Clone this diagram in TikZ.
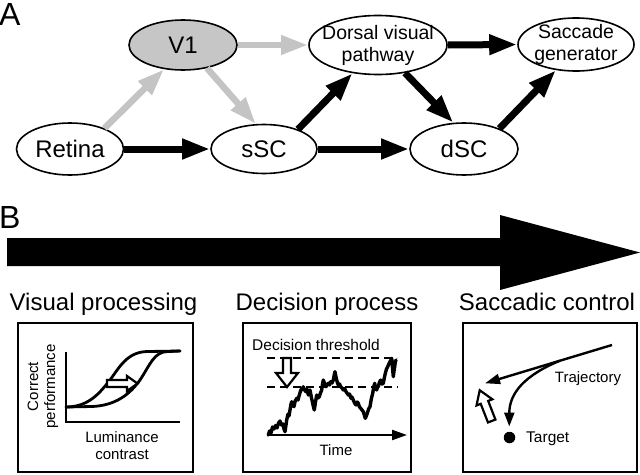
\documentclass[tikz,border=0pt]{standalone}
\usepackage{fontspec}
\setmainfont{Liberation Sans}
\usetikzlibrary{arrows.meta,shapes.geometric}
\definecolor{vonegray}{HTML}{C6C6C6}
\definecolor{arrgray}{HTML}{C4C4C4}
\begin{document}
\begin{tikzpicture}[x=1pt,y=-1pt,
  region/.style={ellipse,draw=black,line width=1.6pt,fill=white,inner xsep=-12pt,inner ysep=-3pt,align=center},
  bigfont/.style={font=\fontsize{24}{28}\selectfont},
  twofont/.style={font=\fontsize{19.5}{22}\selectfont},
  smallfont/.style={font=\fontsize{15}{17}\selectfont},
  titlefont/.style={font=\fontsize{24}{28}\selectfont},
  letterfont/.style={font=\fontsize{32}{36}\selectfont},
  blackarrow/.style={line width=7pt,-{Triangle[length=28pt,width=19pt]}},
  grayarrow/.style={line width=6.5pt,draw=arrgray,-{Triangle[length=27pt,width=18pt]}},
  panel/.style={draw,line width=2pt,inner sep=0pt,minimum height=149pt},
  thinarrow/.style={line width=2.2pt,-{Triangle[length=15pt,width=10pt]}},
  hollow/.style={draw=black,fill=white,line width=2.2pt,line join=miter},
  curve/.style={line width=2.8pt,line cap=round,line join=round},
  thr/.style={line width=1.5pt,dash pattern=on 8pt off 5pt}
]
\useasboundingbox (0,0) rectangle (640,474);

% ---------- Panel A ----------
\node[letterfont,anchor=base west,inner sep=0pt] (labA) at (-1,25) {A};

\node[region,bigfont,minimum width=107pt,minimum height=52pt] (retina) at (70,149) {Retina};
\node[region,bigfont,fill=vonegray,minimum width=108pt,minimum height=50pt] (v1) at (183,45) {V1};
\node[region,bigfont,minimum width=106pt,minimum height=49pt] (ssc) at (264,149) {sSC};
\node[region,bigfont,minimum width=108pt,minimum height=52pt] (dsc) at (464,149) {dSC};
\node[region,twofont,minimum width=138pt,minimum height=59pt] (dorsal) at (378,45) {Dorsal visual\\pathway};
\node[region,twofont,minimum width=116pt,minimum height=53pt] (sacc) at (576,44.5) {Saccade\\generator};

\draw[grayarrow] (retina.31) -- (v1.232);
\draw[grayarrow] (v1.-44) -- (ssc.108);
\draw[grayarrow] (v1.east) -- (dorsal.west);
\draw[blackarrow] (retina.east) -- (ssc.west);
\draw[blackarrow] (ssc.east) -- (dsc.west);
\draw[blackarrow] (ssc.30) -- (dorsal.228);
\draw[blackarrow] (dorsal.-46) -- (dsc.112);
\draw[blackarrow] (dsc.30) -- (sacc.232);
\draw[blackarrow] (dorsal.east) -- (sacc.west);

% ---------- Panel B ----------
\node[letterfont,anchor=base west,inner sep=0pt] (labB) at (-1,228) {B};
\fill[black] (7,238) -- (500,238) -- (500,215) -- (640,252.5) -- (500,290) -- (500,266) -- (7,266) -- cycle;

\node[titlefont,anchor=base,inner sep=0pt] (t1) at (103.5,310) {Visual processing};
\node[titlefont,anchor=base,inner sep=0pt] (t2) at (327,310) {Decision process};
\node[titlefont,anchor=base,inner sep=0pt] (t3) at (547,310) {Saccadic control};

\node[panel,minimum width=175pt] (box1) at (105.5,397.5) {};
\node[panel,minimum width=168pt] (box2) at (327,397.5) {};
\node[panel,minimum width=174pt] (box3) at (550,397.5) {};

% box 1: psychometric curves
\coordinate (orig1) at (66,422);
\coordinate (yend1) at (66,352);
\coordinate (xend1) at (180,422);
\draw[line width=2pt] (yend1) -- (orig1) -- (xend1);
\draw[curve] (66,407) .. controls (90,407) and (101,391) .. (110,380)
  .. controls (119,368) and (127,351.5) .. (148,351.5) -- (180,351);
\draw[curve] (66,407) -- (92,406.5) .. controls (116,405.5) and (130,394) .. (140,380)
  .. controls (150,365) and (154,351.5) .. (168,351.5) -- (180,351);
\draw[hollow] (107,380) -- (127,380) -- (127,376) -- (137.5,383.5) -- (127,391) -- (127,387) -- (107,387) -- cycle;
\node[smallfont,rotate=90,align=center,inner sep=0pt] (perf) at (43,386.5) {Correct\\performance};
\node[smallfont,align=center,inner sep=0pt] (lum) at (122,446) {Luminance\\contrast};

% box 2: decision process
\node[font=\fontsize{15.5}{17}\selectfont,inner sep=0pt] (dthr) at (316,345) {Decision threshold};
\coordinate (up1) at (267,358); \coordinate (up2) at (397,358);
\coordinate (lo1) at (267,387); \coordinate (lo2) at (398,387);
\draw[thr] (up1) -- (up2);
\draw[thr] (lo1) -- (lo2);
\coordinate (tax0) at (267,435); \coordinate (tax1) at (407,435);
\draw[thinarrow] (tax0) -- (tax1);
\node[smallfont,inner sep=0pt] (time) at (336,450) {Time};
\draw[line width=3.4pt,line join=round,line cap=round]
 (268.3,435) -- (269.5,431) -- (271,433) -- (272.5,427) -- (274,429) -- (275.5,425.5) -- (277,428) -- (278.5,423) -- (280,421) -- (281.5,425) -- (283,424) -- (284,429) -- (285,431.7) -- (286,425) -- (286.7,420) -- (288,414) -- (289,416) -- (290,410) -- (291,404) -- (291.7,401.7) -- (292.8,405) -- (294,406.7) -- (295.2,401) -- (296.7,398.3) -- (298,400) -- (299.3,395) -- (300.5,391) -- (301.7,388.3) -- (302.5,389.5) -- (303.3,386.7) -- (304.5,390) -- (306,391.7) -- (307,389) -- (308.3,395) -- (309.2,392) -- (310,390) -- (311.3,397) -- (312.7,403.3) -- (313.5,407) -- (314.3,410) -- (315.5,402) -- (316.7,395) -- (318,398) -- (319.3,396.7) -- (320.5,393) -- (321.7,390) -- (322.5,384) -- (323.3,380) -- (324.7,384) -- (326,386.7) -- (327.2,384.5) -- (328.3,383.3) -- (329.5,385) -- (330.7,381.7) -- (332,383) -- (333.3,380) -- (334.2,375) -- (335,371.7) -- (335.8,376) -- (336.7,380) -- (337.5,383) -- (338.3,385) -- (339.5,384) -- (340.7,386.7) -- (342,388) -- (343.3,390) -- (344.7,388.5) -- (346,391.7) -- (347,393) -- (348.3,395) -- (349.6,394) -- (351,398.3) -- (352,397) -- (353.3,400) -- (354.6,403) -- (356,405) -- (357.2,402) -- (358.3,403.3) -- (359.5,407) -- (360.7,408.3) -- (362,410) -- (363.3,411.7) -- (364.3,415) -- (365.3,418.3) -- (366.3,416) -- (367.3,413.3) -- (368.6,409) -- (370,406.7) -- (371.3,399) -- (372.7,393.3) -- (373.7,387) -- (374.7,383.3) -- (375.7,388) -- (376.7,390) -- (377.5,387) -- (378.3,386.7) -- (379.5,382) -- (380.7,380) -- (382,384) -- (383.3,383.3) -- (384.3,378) -- (385.3,373.3) -- (386.5,369) -- (387.7,366.7) -- (388.8,364) -- (390,361.7) -- (391,360) -- (391.7,358.3) -- (392.5,368) -- (393.3,376.7) -- (394,371) -- (394.7,366.7) -- (395.3,362) -- (396,360);
\draw[hollow] (283,358) -- (291,358) -- (291,373) -- (298,373) -- (287,387) -- (276,373) -- (283,373) -- cycle;

% box 3: saccadic control
\coordinate (trs) at (612,345);
\coordinate (tre) at (485,383.3);
\coordinate (branch) at (560,360.7);
\coordinate (cend) at (509.3,426.5);
\draw[thinarrow,line width=2.4pt] (trs) -- (tre);
\draw[line width=2.4pt,-{Triangle[length=14pt,width=10pt]}] (branch) .. controls (525,375) and (509.3,393) .. (cend);
\node[smallfont,inner sep=0pt] (traj) at (588,379) {Trajectory};
\node[circle,fill=black,inner sep=0pt,minimum size=11.5pt] (tdot) at (509.5,437.5) {};
\node[font=\fontsize{15.5}{17}\selectfont,anchor=west,inner sep=0pt] (tgt) at (526,438.5) {Target};
\draw[hollow] (495.43,419.55) -- (488.17,400.91) -- (492.36,399.27) -- (479.72,390.24) -- (476.52,405.45) -- (480.71,403.81) -- (487.97,422.45) -- cycle;
\end{tikzpicture}
\end{document}
